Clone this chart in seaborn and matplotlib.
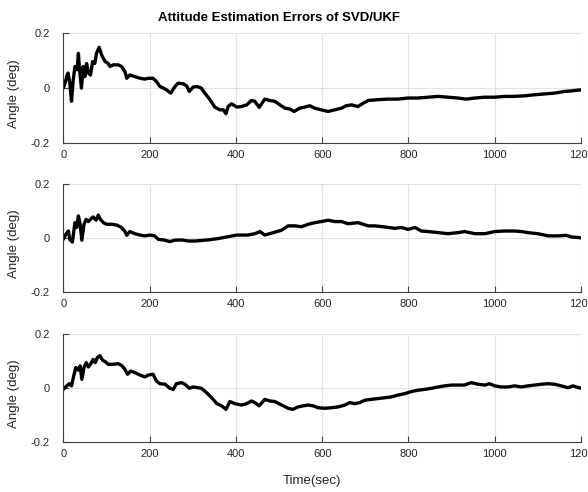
import matplotlib
matplotlib.use("Agg")
import matplotlib.pyplot as plt
import seaborn as sns
import pandas as pd

# Roll error (deg)
t_roll = [0, 4, 9, 11, 15, 19, 23, 27, 32, 35, 37, 42, 46, 50, 54, 58, 63, 68, 73, 77,
          83, 89, 97, 104, 108, 116, 127, 135, 143, 147, 154, 166, 178, 189, 197, 208,
          216, 224, 232, 239, 249, 259, 266, 278, 286, 292, 301, 310, 320, 328, 340,
          351, 363, 371, 377, 382, 390, 402, 413, 425, 436, 444, 454, 467, 479, 490,
          502, 514, 525, 535, 548, 560, 571, 583, 598, 614, 629, 645, 656, 668, 683,
          695, 707, 730, 753, 776, 799, 822, 846, 869, 892, 915, 934, 954, 977, 1000,
          1023, 1046, 1070, 1093, 1116, 1139, 1162, 1178, 1200]
roll = [0.0, 0.018, 0.048, 0.055, 0.02, -0.048, 0.03, 0.079, 0.067, 0.127, 0.08, 0.0,
        0.079, 0.042, 0.09, 0.055, 0.048, 0.097, 0.09, 0.127, 0.149, 0.12, 0.097, 0.09,
        0.079, 0.085, 0.085, 0.079, 0.06, 0.036, 0.048, 0.042, 0.036, 0.033, 0.036,
        0.036, 0.024, 0.006, 0.0, -0.006, -0.018, 0.006, 0.018, 0.016, 0.008, -0.012,
        0.004, 0.006, 0.0, -0.018, -0.042, -0.069, -0.079, -0.079, -0.093, -0.067,
        -0.057, -0.069, -0.067, -0.061, -0.045, -0.048, -0.07, -0.04, -0.045, -0.048,
        -0.061, -0.073, -0.076, -0.085, -0.073, -0.069, -0.064, -0.073, -0.079, -0.085,
        -0.079, -0.073, -0.064, -0.061, -0.067, -0.055, -0.045, -0.042, -0.04, -0.04,
        -0.036, -0.036, -0.033, -0.03, -0.033, -0.036, -0.04, -0.036, -0.033, -0.033,
        -0.03, -0.03, -0.028, -0.024, -0.021, -0.018, -0.012, -0.01, -0.006]

# Pitch error (deg)
t_pitch = [0, 6, 12, 15, 21, 27, 31, 35, 39, 43, 48, 53, 58, 63, 69, 76, 81, 86, 93,
           100, 112, 124, 135, 143, 147, 154, 166, 178, 189, 201, 212, 220, 232, 247,
           259, 274, 290, 305, 336, 359, 382, 402, 428, 444, 456, 467, 487, 506, 521,
           537, 552, 568, 583, 598, 614, 629, 645, 660, 683, 691, 707, 722, 745, 768,
           784, 799, 815, 830, 846, 869, 892, 915, 930, 954, 977, 1000, 1023, 1046,
           1062, 1077, 1100, 1124, 1147, 1166, 1178, 1200]
pitch = [-0.004, 0.015, 0.027, -0.004, -0.014, 0.058, 0.04, 0.083, 0.052, -0.007,
         0.052, 0.07, 0.062, 0.07, 0.079, 0.067, 0.086, 0.07, 0.058, 0.052, 0.052,
         0.049, 0.04, 0.025, 0.011, 0.025, 0.017, 0.012, 0.009, 0.012, 0.009, -0.004,
         -0.006, -0.012, -0.007, -0.006, -0.01, -0.01, -0.006, -0.001, 0.006, 0.012,
         0.012, 0.017, 0.025, 0.012, 0.021, 0.03, 0.046, 0.046, 0.043, 0.052, 0.058,
         0.062, 0.067, 0.062, 0.062, 0.054, 0.058, 0.054, 0.046, 0.046, 0.042, 0.037,
         0.04, 0.033, 0.04, 0.027, 0.025, 0.021, 0.017, 0.021, 0.025, 0.017, 0.017,
         0.025, 0.027, 0.027, 0.025, 0.021, 0.017, 0.009, 0.009, 0.011, 0.005, 0.002]

# Yaw error (deg)
t_yaw = [0, 8, 14, 19, 25, 29, 35, 39, 43, 48, 53, 58, 63, 69, 74, 79, 85, 91, 97,
         104, 116, 127, 135, 143, 149, 156, 166, 178, 189, 197, 208, 216, 224, 236,
         247, 255, 262, 274, 282, 292, 301, 320, 332, 344, 356, 367, 377, 386, 398,
         413, 425, 436, 444, 454, 467, 479, 490, 506, 521, 532, 544, 556, 568, 579,
         591, 606, 621, 637, 653, 664, 676, 687, 699, 714, 730, 745, 760, 776, 791,
         807, 822, 838, 853, 869, 884, 900, 915, 930, 946, 961, 977, 988, 1000, 1015,
         1031, 1046, 1062, 1077, 1093, 1108, 1124, 1139, 1154, 1170, 1181, 1200]
yaw = [-0.004, 0.009, 0.017, 0.009, 0.052, 0.077, 0.067, 0.083, 0.033, 0.077, 0.095,
       0.079, 0.089, 0.107, 0.095, 0.114, 0.121, 0.104, 0.099, 0.089, 0.089, 0.091,
       0.085, 0.07, 0.052, 0.064, 0.058, 0.049, 0.042, 0.049, 0.052, 0.027, 0.017,
       0.015, 0.0, -0.004, 0.017, 0.021, 0.015, 0.0, 0.005, 0.0, -0.016, -0.035,
       -0.057, -0.065, -0.078, -0.049, -0.057, -0.062, -0.057, -0.047, -0.053, -0.065,
       -0.041, -0.047, -0.049, -0.062, -0.074, -0.078, -0.069, -0.065, -0.062, -0.065,
       -0.072, -0.074, -0.072, -0.069, -0.062, -0.053, -0.057, -0.053, -0.044, -0.041,
       -0.038, -0.035, -0.032, -0.025, -0.02, -0.012, -0.007, -0.004, 0.0, 0.005,
       0.009, 0.012, 0.012, 0.012, 0.021, 0.015, 0.012, 0.017, 0.009, 0.005, 0.005,
       0.009, 0.005, 0.009, 0.012, 0.015, 0.017, 0.015, 0.009, 0.002, 0.009, 0.0]

x_ticks = [0, 200, 400, 600, 800, 1000, 1200]
y_ticks = [-0.2, 0, 0.2]
y_tick_labels = ["-0.2", "0", "0.2"]

title = "Attitude Estimation Errors of SVD/UKF"
y_label = "Angle (deg)"
x_label = "Time(sec)"

sns.set_theme(style="white")
plt.rcParams["font.family"] = ["Liberation Sans", "DejaVu Sans"]

W, H = 588, 492
fig = plt.figure(figsize=(W / 100, H / 100), dpi=100)

# panel boxes in pixels: (top, bottom)
left_px, right_px = 63.3, 581.0
panels_px = [(33.3, 143.0), (184.3, 292.3), (334.3, 442.3)]

series = [(t_roll, roll), (t_pitch, pitch), (t_yaw, yaw)]
axis_color = "#404040"
text_color = "#262626"

axes = []
for (top_px, bot_px), (tt, vv) in zip(panels_px, series):
    ax = fig.add_axes([left_px / W, 1 - bot_px / H,
                       (right_px - left_px) / W, (bot_px - top_px) / H])
    df = pd.DataFrame({"t": tt, "v": vv})
    sns.lineplot(data=df, x="t", y="v", ax=ax, color="black", linewidth=2.4,
                 estimator=None, sort=False)
    ax.lines[-1].set_solid_joinstyle("round")
    ax.set_xlim(0, 1200)
    ax.set_ylim(-0.2, 0.2)
    ax.set_xticks(x_ticks)
    ax.set_xticklabels([str(v) for v in x_ticks])
    ax.set_yticks(y_ticks)
    ax.set_yticklabels(y_tick_labels)
    ax.grid(True, color="#e2e2e2", linewidth=0.8)
    ax.set_axisbelow(True)
    for side in ("top", "right"):
        ax.spines[side].set_visible(False)
    for side in ("left", "bottom"):
        ax.spines[side].set_color(axis_color)
        ax.spines[side].set_linewidth(0.8)
    ax.tick_params(axis="both", direction="in", length=4, width=0.8,
                   color=axis_color, labelcolor=text_color, labelsize=8,
                   left=True, bottom=True)
    ax.tick_params(axis="y", pad=9.5)
    ax.tick_params(axis="x", pad=5)
    ax.set_xlabel("")
    ax.set_ylabel(y_label, fontsize=9.5, color=text_color)
    ax.yaxis.set_label_coords(-0.084, 0.45)
    axes.append(ax)

axes[-1].set_xlabel(x_label, fontsize=9.5, color=text_color)
axes[-1].xaxis.set_label_coords(0.48, -0.30)

fig.text(279 / W, 1 - 20.7 / H, title, ha="center", va="baseline",
         fontsize=9.5, fontweight="bold", color="black")

fig.savefig("out.png", dpi=100, facecolor="white")
